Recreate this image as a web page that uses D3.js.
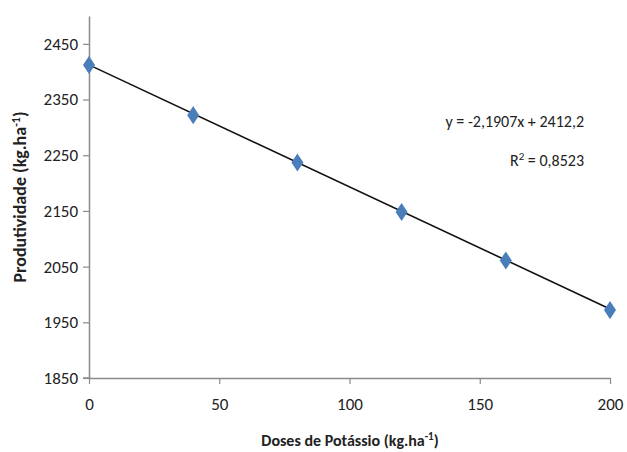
<!DOCTYPE html>
<html>
<head>
<meta charset="utf-8">
<script src="https://cdn.jsdelivr.net/npm/d3@7"></script>
<style>
  body { margin: 0; background: #fff; }
  svg text { font-family: Carlito, 'Liberation Sans Narrow', 'DejaVu Sans Condensed', sans-serif; fill: #222; }
</style>
</head>
<body>
<svg id="chart" width="627" height="452"></svg>
<script>
// doses (kg/ha) and yields
var doses = [0, 40, 80, 120, 160, 200];
var yields = [2412, 2322, 2237, 2148, 2061, 1972];
var xTicks = [0, 50, 100, 150, 200];
var yTicks = [1850, 1950, 2050, 2150, 2250, 2350, 2450];
var slope = -2.1907, intercept = 2412.2;

var svg = d3.select('#chart');
var x = d3.scaleLinear().domain([0, 200]).range([89, 610]);
var y = d3.scaleLinear().domain([1850, 2500]).range([378, 16]);

// axes
var xAxis = svg.append('g').attr('transform', 'translate(0,378)')
  .call(d3.axisBottom(x).tickValues(xTicks).tickSize(6).tickSizeOuter(0).tickPadding(14));
var yAxis = svg.append('g').attr('transform', 'translate(89,0)')
  .call(d3.axisLeft(y).tickValues(yTicks).tickFormat(d3.format('d')).tickSize(6).tickSizeOuter(0).tickPadding(5));

[xAxis, yAxis].forEach(function (g) {
  g.select('.domain').attr('stroke', '#8a8a8a').attr('stroke-width', 1.5);
  g.selectAll('.tick line').attr('stroke', '#8a8a8a').attr('stroke-width', 1.2);
  g.selectAll('.tick text').style('font-size', '17px').attr('fill', '#222');
});
svg.append('line').attr('x1', 83).attr('x2', 89).attr('y1', 378).attr('y2', 378)
  .attr('stroke', '#8a8a8a').attr('stroke-width', 1.5);

// trend line
svg.append('line')
  .attr('x1', x(0)).attr('y1', y(intercept))
  .attr('x2', x(200)).attr('y2', y(slope * 200 + intercept))
  .attr('stroke', '#111').attr('stroke-width', 1.6);

// points
var diamond = d3.symbol().type(d3.symbolDiamond).size(95);
svg.selectAll('path.pt')
  .data(doses)
  .enter().append('path')
  .attr('class', 'pt')
  .attr('d', diamond)
  .attr('transform', function (d, i) { return 'translate(' + x(d) + ',' + y(yields[i]) + ') scale(1.15,1)'; })
  .attr('fill', '#4a7ebb');

// equation labels
svg.append('text').attr('x', 584).attr('y', 127).attr('text-anchor', 'end')
  .style('font-size', '16px').text('y = -2,1907x + 2412,2');
var r2 = svg.append('text').attr('x', 584).attr('y', 166).attr('text-anchor', 'end')
  .style('font-size', '16px');
r2.append('tspan').text('R');
r2.append('tspan').attr('dy', -6).style('font-size', '11px').text('2');
r2.append('tspan').attr('dy', 6).text(' = 0,8523');

// axis titles
var xt = svg.append('text').attr('x', 350).attr('y', 446).attr('text-anchor', 'middle')
  .style('font-size', '16px').style('font-weight', 'bold');
xt.append('tspan').text('Doses de Potássio (kg.ha');
xt.append('tspan').attr('dy', -6).style('font-size', '11px').text('-1');
xt.append('tspan').attr('dy', 6).text(')');

var yt = svg.append('text').attr('transform', 'translate(26,197) rotate(-90)').attr('text-anchor', 'middle')
  .style('font-size', '18px').style('font-weight', 'bold');
yt.append('tspan').text('Produtividade (kg.ha');
yt.append('tspan').attr('dy', -6).style('font-size', '12px').text('-1');
yt.append('tspan').attr('dy', 6).text(')');
</script>
</body>
</html>
